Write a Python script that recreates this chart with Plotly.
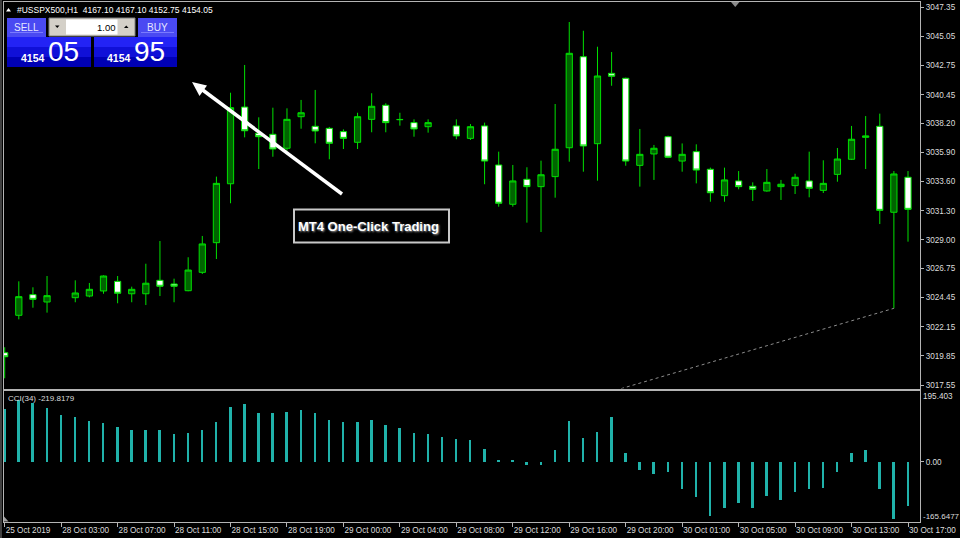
import plotly.graph_objects as go

# ---------------- data ----------------
bar_index = list(range(65))

open_prices = [3020.10, 3023.05, 3024.68, 3024.10, None, 3024.44, 3024.57, 3024.97, 3025.73, 3024.75,
               3024.75, 3025.81, 3025.52, 3024.99, 3026.44, 3028.78, 3033.43, 3039.48, 3037.41, 3037.33,
               3036.23, 3038.72, 3037.96, 3037.80, 3037.54, 3036.70, 3038.51, 3039.62, 3038.48, 3038.25,
               3037.93, None, 3037.99, 3037.01, 3037.99, 3034.91, 3031.81, 3033.78, 3033.20, 3033.99,
               3036.27, 3043.45, 3036.59, 3042.14, 3041.75, 3034.88, 3035.78, 3037.14, 3035.22, 3035.96,
               3034.57, 3032.49, 3033.65, 3033.23, 3032.86, 3033.20, 3033.28, 3033.65, 3032.91, 3034.17,
               3035.36, 3037.09, 3037.96, 3031.18, 3033.94]
high_prices = [3020.53, 3025.73, 3025.26, 3026.15, None, 3025.81, 3025.60, 3026.20, 3026.15, 3025.31,
               3027.12, 3028.91, 3025.94, 3027.63, 3029.31, 3033.99, 3040.61, 3042.80, 3038.67, 3039.43,
               3039.38, 3040.04, 3040.83, 3037.91, 3037.72, 3039.03, 3040.57, 3039.78, 3039.03, 3038.51,
               3038.51, None, 3038.51, 3038.14, 3038.25, 3035.96, 3034.91, 3034.73, 3035.25, 3039.72,
               3046.19, 3045.50, 3044.24, 3043.82, 3041.80, 3037.75, 3036.49, 3037.22, 3036.61, 3036.54,
               3034.70, 3034.70, 3034.43, 3033.54, 3034.59, 3033.73, 3034.22, 3035.96, 3035.28, 3036.25,
               3037.99, 3038.77, 3038.96, 3034.43, 3034.43]
low_prices = [3018.08, 3022.73, 3023.65, 3023.26, None, 3024.08, 3024.47, 3024.75, 3024.00, 3024.08,
              3023.86, 3024.57, 3024.08, 3024.95, 3026.31, 3027.49, 3031.89, 3037.09, 3034.59, 3035.56,
              3036.04, 3037.77, 3036.62, 3035.36, 3036.17, 3036.17, 3037.49, 3037.49, 3038.01, 3037.14,
              3037.46, None, 3036.94, 3036.88, 3033.39, 3031.62, 3031.62, 3030.36, 3029.62, 3032.33,
              3035.17, 3034.38, 3033.67, 3041.16, 3034.85, 3033.20, 3033.73, 3035.45, 3034.38, 3033.46,
              3032.01, 3032.01, 3032.99, 3032.07, 3032.80, 3032.15, 3032.62, 3032.36, 3032.70, 3033.59,
              3035.30, 3034.59, 3030.25, 3023.60, 3028.86]
close_prices = [3019.78, 3024.52, 3024.31, 3024.60, None, 3024.81, 3025.10, 3026.15, 3024.79, 3025.10,
                3025.58, 3025.34, 3025.34, 3026.62, 3028.68, 3033.46, 3039.43, 3037.61, 3037.14, 3036.17,
                3038.51, 3039.03, 3037.59, 3036.62, 3037.01, 3038.72, 3039.54, 3038.25, 3038.50, 3037.75,
                3038.25, None, 3037.20, 3037.93, 3035.22, 3031.89, 3033.65, 3033.20, 3034.14, 3036.15,
                3043.72, 3036.41, 3041.93, 3041.91, 3035.22, 3035.75, 3036.23, 3035.52, 3035.75, 3034.51,
                3032.72, 3033.73, 3033.20, 3032.99, 3033.54, 3033.39, 3033.94, 3033.07, 3033.46, 3035.38,
                3036.94, 3037.20, 3031.33, 3034.20, 3031.41]

cci_values = [145.8, 172.0, 162.7, 147.8, 128.9, 123.2, 113.9, 108.3, 95.9, 88.5,
              88.5, 88.5, 76.1, 80.9, 88.5, 111.1, 150.6, 159.9, 135.4, 135.4,
              138.2, 143.0, 135.4, 115.6, 111.1, 111.1, 115.6, 100.7, 93.1, 80.9,
              78.1, 68.8, 63.2, 60.3, 35.8, 6.8, 6.8, -8.0, -8.0, 33.8,
              113.9, 66.0, 82.9, 125.2, 26.5, -21.4, -33.8, -28.2, -73.3, -95.9,
              -147.5, -125.8, -112.8, -125.8, -93.0, -105.2, -82.6, -73.3, -71.3, -28.2,
              26.5, 33.8, -73.3, -155.0, -121.3]

time_label_pos = [0, 4, 8, 12, 16, 20, 24, 28, 32, 36, 40, 44, 48, 52, 56, 60, 64]
time_labels = ["25 Oct 2019", "28 Oct 03:00", "28 Oct 07:00", "28 Oct 11:00", "28 Oct 15:00",
               "28 Oct 19:00", "29 Oct 00:00", "29 Oct 04:00", "29 Oct 08:00", "29 Oct 12:00",
               "29 Oct 16:00", "29 Oct 20:00", "30 Oct 01:00", "30 Oct 05:00", "30 Oct 09:00",
               "30 Oct 13:00", "30 Oct 17:00"]

price_ticks = [3047.35, 3045.05, 3042.75, 3040.45, 3038.20, 3035.90, 3033.60,
               3031.30, 3029.00, 3026.75, 3024.45, 3022.15, 3019.85, 3017.55]
price_tick_text = [f"{v:.2f}" for v in price_ticks]

cci_max = 195.403
cci_min = -165.6477
cci_current = -219.8179

trend_x = [40, 63]
trend_y = [3016.06, 3023.60]

header_text = "#USSPX500,H1\u00a0\u00a04167.10 4167.10 4152.75 4154.05"

# ---------------- layout geometry ----------------
PL, PR, PT, PB = 4, 920, 2, 522
W, H = 960, 538


def px(x):
    return (x - PL) / (PR - PL)


def py(y):
    return (PB - y) / (PB - PT)


main_bottom = py(388.5)
cci_top = py(390.5)

FONT = "Liberation Sans, Arial, sans-serif"
TXT = "#dcdcdc"
FRAME = "#b4b4b4"

fig = go.Figure()

fig.add_trace(go.Candlestick(
    x=bar_index, open=open_prices, high=high_prices, low=low_prices, close=close_prices,
    increasing=dict(line=dict(color="#00e000", width=1), fillcolor="#006400"),
    decreasing=dict(line=dict(color="#00e000", width=1), fillcolor="#ffffff"),
    whiskerwidth=0, hoverinfo="skip", xaxis="x", yaxis="y", showlegend=False))

fig.add_trace(go.Scatter(
    x=trend_x, y=trend_y, mode="lines", xaxis="x", yaxis="y",
    line=dict(color="#8c8c8c", width=1, dash="3px,3px"), hoverinfo="skip", showlegend=False))

fig.add_trace(go.Bar(
    x=bar_index, y=cci_values, width=0.14, xaxis="x2", yaxis="y2",
    marker=dict(color="#20b2aa", line=dict(width=0)), hoverinfo="skip", showlegend=False))

xr = [(PL - 4.7) / 14.114, (PR - 4.7) / 14.114]

fig.update_layout(
    width=W, height=H, autosize=False,
    paper_bgcolor="#000000", plot_bgcolor="#000000",
    margin=dict(l=PL, r=W - PR, t=PT, b=H - PB, pad=0, autoexpand=False),
    showlegend=False, boxgap=0.37, bargap=0,
    font=dict(family=FONT, size=8, color=TXT),
    xaxis=dict(domain=[0, 1], anchor="y", range=xr, showticklabels=False, ticks="",
               showgrid=False, zeroline=False, showline=True, mirror=True, automargin=False,
               linecolor=FRAME, linewidth=1, rangeslider=dict(visible=False), fixedrange=True),
    xaxis2=dict(domain=[0, 1], anchor="y2", matches="x", range=xr,
                tickmode="array", tickvals=time_label_pos, ticktext=time_labels,
                ticks="outside", ticklen=4, tickcolor=FRAME, tickwidth=1, tickangle=0,
                ticklabelposition="outside right", ticklabeloverflow="allow", automargin=False,
                tickfont=dict(family=FONT, size=8.2, color=TXT),
                showgrid=False, zeroline=False, showline=True, mirror=True,
                linecolor=FRAME, linewidth=1, fixedrange=True),
    yaxis=dict(domain=[main_bottom, 1], anchor="x", side="right", automargin=False,
               range=[3047.35 - (388.5 - 7.3) / 12.675, 3047.35 + (7.3 - 2) / 12.675],
               tickmode="array", tickvals=price_ticks, ticktext=price_tick_text,
               ticks="outside", ticklen=3, tickcolor=FRAME,
               tickfont=dict(family=FONT, size=8.2, color=TXT),
               showgrid=False, zeroline=False, showline=True, mirror=True,
               linecolor=FRAME, linewidth=1, fixedrange=True),
    yaxis2=dict(domain=[0, cci_top], anchor="x2", side="right", automargin=False,
                range=[cci_min, cci_max],
                tickmode="array", tickvals=[0], ticktext=["0.00"],
                ticks="outside", ticklen=3, tickcolor=FRAME,
                tickfont=dict(family=FONT, size=8.2, color=TXT),
                showgrid=False, zeroline=False, showline=True, mirror=True,
                linecolor=FRAME, linewidth=1, fixedrange=True),
)

shapes = []
annotations = []


def rect(x0, y0, x1, y1, fill, line=None, lw=0):
    shapes.append(dict(type="rect", xref="paper", yref="paper",
                       x0=px(x0), x1=px(x1), y0=py(y1), y1=py(y0),
                       fillcolor=fill, line=dict(color=line or fill, width=lw), layer="above"))


def tri(points, fill):
    path = "M " + " L ".join(f"{px(x)},{py(y)}" for x, y in points) + " Z"
    shapes.append(dict(type="path", xref="paper", yref="paper", path=path,
                       fillcolor=fill, line=dict(color=fill, width=0), layer="above"))


def text(x, y, s, size=8, color=TXT, xanchor="left", bold=False, shadow=None):
    f = dict(family=FONT, size=size, color=color)
    if bold:
        f["weight"] = "bold"
    if shadow:
        f["shadow"] = shadow
    annotations.append(dict(x=px(x), y=py(y), xref="paper", yref="paper", text=s,
                            showarrow=False, xanchor=xanchor, yanchor="middle",
                            font=f, borderpad=0, borderwidth=0))


# outer window line at far left
shapes.append(dict(type="line", xref="paper", yref="paper", x0=px(1), x1=px(1), y0=py(538), y1=py(0),
                   line=dict(color="#808080", width=1), layer="above"))

# header
tri([(6, 11.5), (11, 11.5), (8.5, 8)], "#ffffff")
text(17, 10, header_text, size=8.5, color="#ffffff")

# one-click panel: sell
rect(7, 18, 46, 37, "#4a4af2")
rect(10, 32, 43, 33, "#7a7aff")
rect(7, 37, 91, 47, "#2323f5")
rect(7, 47, 91, 57, "#1010d8")
rect(7, 57, 91, 67, "#0000b4")
# buy
rect(138, 18, 177, 37, "#4a4af2")
rect(141, 32, 174, 33, "#7a7aff")
rect(94, 37, 177, 47, "#2323f5")
rect(94, 47, 177, 57, "#1010d8")
rect(94, 57, 177, 67, "#0000b4")
# lot spin box
rect(49, 18, 135, 36, "#d4d0c8", "#808080", 1)
rect(66, 19.5, 117.5, 34.5, "#ffffff")
tri([(55, 25.5), (59.5, 25.5), (57.25, 28)], "#000000")
tri([(124, 28), (128.5, 28), (126.25, 25.5)], "#000000")

text(26.5, 27, "SELL", size=10, color="#e6e6ff", xanchor="center")
text(157.5, 27, "BUY", size=10, color="#e6e6ff", xanchor="center")
text(116, 27, "1.00", size=9.5, color="#000000", xanchor="right")
text(21, 58, "4154", size=10.5, color="#ffffff", bold=True)
text(48, 52, "05", size=28, color="#ffffff")
text(107, 58, "4154", size=10.5, color="#ffffff", bold=True)
text(134, 52, "95", size=28, color="#ffffff")

# arrow
shapes.append(dict(type="line", xref="paper", yref="paper", x0=px(342), y0=py(194),
                   x1=px(200), y1=py(88), line=dict(color="#ffffff", width=3.5), layer="above"))
tri([(192, 82), (207, 85.5), (199.5, 96)], "#ffffff")

# label box
rect(294, 209.5, 449, 242.5, "#000000", "#c8c8c8", 2)
text(368, 226, "MT4 One-Click Trading", size=13, color="#ffffff", xanchor="center",
     bold=True, shadow="1px 1px 2px #9a9a9a")

# chart shift marker
tri([(731, 2), (739.5, 2), (735.25, 7)], "#8a8a8a")
# bottom-left marker in indicator window
tri([(4, 516.5), (4, 521.5), (8.5, 521.5)], "#a0a0a0")

# indicator caption
text(8, 398, f"CCI(34) {cci_current:.4f}", size=8, color=TXT)

# indicator scale labels
annotations.append(dict(x=px(922), xref="paper", y=cci_max, yref="y2", text=f"{cci_max:.3f}",
                        showarrow=False, xanchor="left", yanchor="top",
                        font=dict(family=FONT, size=8.2, color=TXT), borderpad=0))
annotations.append(dict(x=px(921.5), xref="paper", y=cci_min, yref="y2", text=f"{cci_min:.4f}",
                        showarrow=False, xanchor="left", yanchor="bottom",
                        font=dict(family=FONT, size=8, color=TXT), borderpad=0))

fig.update_layout(shapes=shapes, annotations=annotations)

fig.write_html(
    "out.html",
    config={"displayModeBar": False},
    post_script="document.body.style.margin='0';document.body.style.padding='0';"
                "document.body.style.background='#000';document.body.style.overflow='hidden';",
)
